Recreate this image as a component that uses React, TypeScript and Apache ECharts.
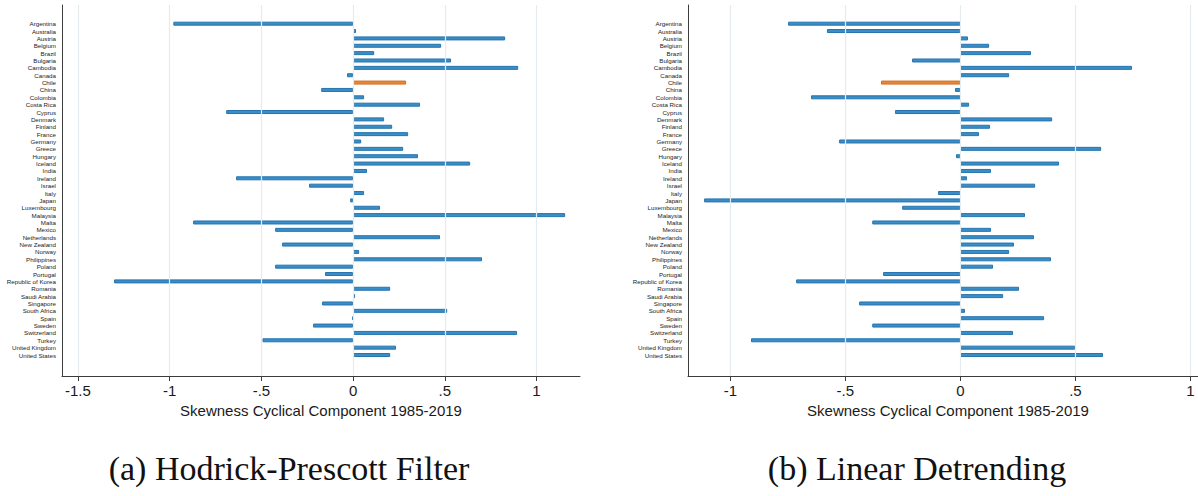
import React, { useEffect, useRef } from 'react';
import * as echarts from 'echarts';

const countries = [
  'Argentina', 'Australia', 'Austria', 'Belgium', 'Brazil', 'Bulgaria', 'Cambodia', 'Canada',
  'Chile', 'China', 'Colombia', 'Costa Rica', 'Cyprus', 'Denmark', 'Finland', 'France',
  'Germany', 'Greece', 'Hungary', 'Iceland', 'India', 'Ireland', 'Israel', 'Italy', 'Japan',
  'Luxembourg', 'Malaysia', 'Malta', 'Mexico', 'Netherlands', 'New Zealand', 'Norway',
  'Philippines', 'Poland', 'Portugal', 'Republic of Korea', 'Romania', 'Saudi Arabia',
  'Singapore', 'South Africa', 'Spain', 'Sweden', 'Switzerland', 'Turkey', 'United Kingdom',
  'United States',
];

// (a) Hodrick-Prescott filter
const hpSkew = [
  -0.98, 0.016, 0.829, 0.48, 0.115, 0.534, 0.9, -0.033,
  0.289, -0.174, 0.06, 0.365, -0.692, 0.169, 0.213, 0.3,
  0.044, 0.273, 0.354, 0.638, 0.076, -0.638, -0.24, 0.06, -0.016,
  0.147, 1.156, -0.872, -0.425, 0.474, -0.387, 0.033,
  0.703, -0.425, -0.153, -1.303, 0.202, 0.011,
  -0.169, 0.513, -0.005, -0.218, 0.894, -0.494, 0.234,
  0.202,
];

// (b) Linear detrending
const ldSkew = [
  -0.749, -0.58, 0.033, 0.125, 0.307, -0.21, 0.746, 0.212,
  -0.345, -0.023, -0.649, 0.038, -0.284, 0.399, 0.129, 0.081,
  -0.527, 0.612, -0.019, 0.429, 0.133, 0.029, 0.325, -0.097, -1.114,
  -0.253, 0.281, -0.383, 0.133, 0.32, 0.233, 0.212,
  0.394, 0.142, -0.336, -0.714, 0.255, 0.186,
  -0.44, 0.02, 0.364, -0.383, 0.229, -0.91, 0.499,
  0.62,
];

const highlight = 'Chile';
const hpTicks = [-1.5, -1, -0.5, 0, 0.5, 1];
const ldTicks = [-1, -0.5, 0, 0.5, 1];
const axisTitle = 'Skewness Cyclical Component 1985-2019';
const captions = ['(a) Hodrick-Prescott Filter', '(b) Linear Detrending'];

const SANS = '"Liberation Sans", Arial, Helvetica, sans-serif';
const SERIF = '"Liberation Serif", "Times New Roman", serif';
const BLUE = '#3a8ec7';
const BLUE_EDGE = '#2674ae';
const ORANGE = '#e8883a';
const ORANGE_EDGE = '#d06f25';
const GRID = '#e4ecef';
const AXIS = '#3c3c3c';

const fmt = (v: number | string) => {
  const n = Number(v);
  if (Math.abs(n) < 1e-9) return '0';
  const s = String(Math.round(n * 10) / 10);
  return s.replace(/^(-?)0\./, '$1.');
};

export default function App() {
  const ref = useRef<HTMLDivElement>(null);

  useEffect(() => {
    if (!ref.current) return;
    const chart = echarts.init(ref.current, undefined, { renderer: 'svg' });

    const panels = [
      { left: 62, width: 518, min: -1.587, max: 1.237, ticks: hpTicks, values: hpSkew, captionX: 289, nameShift: 0 },
      { left: 688, width: 510, min: -1.184, max: 1.033, ticks: ldTicks, values: ldSkew, captionX: 917, nameShift: 10 },
    ];

    const grid: any[] = [];
    const xAxis: any[] = [];
    const yAxis: any[] = [];
    const series: any[] = [];
    const graphic: any[] = [];

    panels.forEach((p, k) => {
      const fi = k * 2;
      const bi = k * 2 + 1;
      grid.push({ left: p.left, top: 5, width: p.width, height: 371, containLabel: false });
      grid.push({ left: p.left, top: 20, width: p.width, height: 338.7, containLabel: false });

      xAxis.push({
        gridIndex: fi,
        type: 'value',
        min: p.min,
        max: p.max,
        axisLine: { show: true, onZero: false, lineStyle: { color: AXIS, width: 1 } },
        axisTick: { show: true, customValues: p.ticks, length: 5, lineStyle: { color: AXIS, width: 1 } },
        axisLabel: {
          customValues: p.ticks,
          formatter: fmt,
          fontSize: 15,
          color: '#1a1a1a',
          margin: 7,
          fontFamily: SANS,
        },
        splitLine: { show: false },
        name: axisTitle,
        nameLocation: 'middle',
        nameGap: 25,
        nameTextStyle: {
          fontSize: 15,
          color: '#1a1a1a',
          fontFamily: SANS,
          padding: [0, 0, 0, p.nameShift],
        },
      });
      xAxis.push({ gridIndex: bi, type: 'value', min: p.min, max: p.max, show: false });

      yAxis.push({
        gridIndex: fi,
        type: 'value',
        min: 0,
        max: 1,
        axisLine: { show: true, onZero: false, lineStyle: { color: AXIS, width: 1 } },
        axisTick: { show: false },
        axisLabel: { show: false },
        splitLine: { show: false },
      });
      yAxis.push({
        gridIndex: bi,
        type: 'category',
        inverse: true,
        data: countries,
        axisLine: { show: false },
        axisTick: { show: false },
        splitLine: { show: false },
        axisLabel: { interval: 0, fontSize: 6.2, margin: 6, color: '#222', fontFamily: SANS },
      });

      series.push({
        type: 'scatter',
        xAxisIndex: fi,
        yAxisIndex: fi,
        data: [],
        silent: true,
        z: 1,
        markLine: {
          silent: true,
          symbol: ['none', 'none'],
          label: { show: false },
          lineStyle: { color: GRID, width: 1.2, type: 'solid' },
          data: p.ticks.map((v) => ({ xAxis: v })),
        },
      });

      series.push({
        type: 'bar',
        xAxisIndex: bi,
        yAxisIndex: bi,
        barWidth: 4,
        z: 3,
        itemStyle: { color: BLUE, borderColor: BLUE_EDGE, borderWidth: 1 },
        data: p.values.map((v, i) =>
          countries[i] === highlight
            ? { value: v, itemStyle: { color: ORANGE, borderColor: ORANGE_EDGE, borderWidth: 1 } }
            : v
        ),
      });

      graphic.push({
        type: 'text',
        x: p.captionX,
        y: 468,
        style: {
          text: captions[k],
          font: `34px ${SERIF}`,
          fill: '#111',
          textAlign: 'center',
          textVerticalAlign: 'middle',
        },
      });
    });

    chart.setOption({
      animation: false,
      backgroundColor: '#ffffff',
      grid,
      xAxis,
      yAxis,
      series,
      graphic,
    });

    return () => chart.dispose();
  }, []);

  return (
    <div
      ref={ref}
      style={{ position: 'absolute', left: 0, top: 0, width: 1198, height: 496, overflow: 'hidden' }}
    />
  );
}
